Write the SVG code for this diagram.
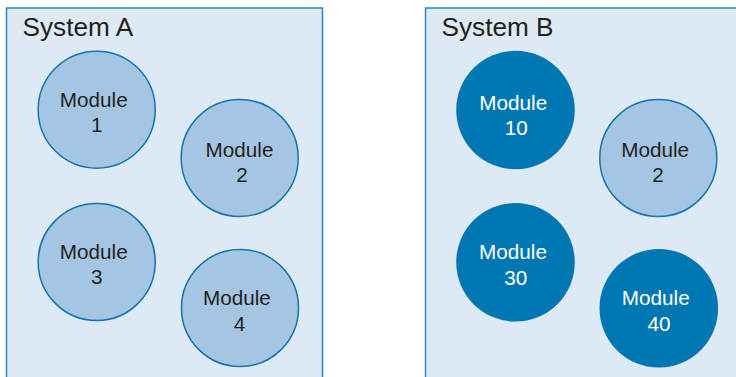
<svg xmlns="http://www.w3.org/2000/svg" width="736" height="377" viewBox="0 0 736 377">
  <style>
    .system { fill: #dde9f5; stroke: #2a86c2; stroke-width: 1.5; }
    .title { font-family: "Liberation Sans", Arial, sans-serif; font-size: 26.2px; fill: #231f20; }
    .mod { fill: #a4c6e3; stroke: #1374b3; stroke-width: 1.5; }
    .mod-dark { fill: #0077b2; }
    .label { font-family: "Liberation Sans", Arial, sans-serif; font-size: 20.7px; text-anchor: middle; fill: #231f20; }
    .label-light { font-family: "Liberation Sans", Arial, sans-serif; font-size: 20.7px; text-anchor: middle; fill: #ffffff; }
  </style>

  <!-- System A container -->
  <g id="system-a">
    <rect class="system" x="6.5" y="8" width="316" height="390"/>
    <text class="title" x="22.5" y="36">System A</text>
  </g>

  <!-- System B container -->
  <g id="system-b">
    <rect class="system" x="425.5" y="8" width="330" height="390"/>
    <text class="title" x="441.5" y="36">System B</text>
  </g>

  <!-- Modules of System A -->
  <g id="a-module-1">
    <circle class="mod" cx="96.7" cy="109.7" r="58.5"/>
    <text class="label" x="93.8" y="106.7">Module</text>
    <text class="label" x="96.7" y="132.4">1</text>
  </g>
  <g id="a-module-2">
    <circle class="mod" cx="239.7" cy="158" r="58.5"/>
    <text class="label" x="239.5" y="157.3">Module</text>
    <text class="label" x="242" y="181.7">2</text>
  </g>
  <g id="a-module-3">
    <circle class="mod" cx="96.7" cy="262" r="58.5"/>
    <text class="label" x="93.8" y="259">Module</text>
    <text class="label" x="96.7" y="284.4">3</text>
  </g>
  <g id="a-module-4">
    <circle class="mod" cx="240" cy="308" r="58.5"/>
    <text class="label" x="236.9" y="305">Module</text>
    <text class="label" x="239.4" y="330.7">4</text>
  </g>

  <!-- Modules of System B -->
  <g id="b-module-10">
    <circle class="mod-dark" cx="515.5" cy="110" r="59.3"/>
    <text class="label-light" x="513.3" y="110">Module</text>
    <text class="label-light" x="516.2" y="135">10</text>
  </g>
  <g id="b-module-2">
    <circle class="mod" cx="658.3" cy="158" r="58.5"/>
    <text class="label" x="655.2" y="157.3">Module</text>
    <text class="label" x="658" y="181.7">2</text>
  </g>
  <g id="b-module-30">
    <circle class="mod-dark" cx="515.5" cy="262.3" r="59.3"/>
    <text class="label-light" x="513" y="259">Module</text>
    <text class="label-light" x="515.7" y="285">30</text>
  </g>
  <g id="b-module-40">
    <circle class="mod-dark" cx="658.8" cy="308.3" r="59.3"/>
    <text class="label-light" x="655.8" y="305">Module</text>
    <text class="label-light" x="659" y="330.7">40</text>
  </g>

  <!-- no connectors in this figure -->
  <g id="connectors"/>
</svg>
